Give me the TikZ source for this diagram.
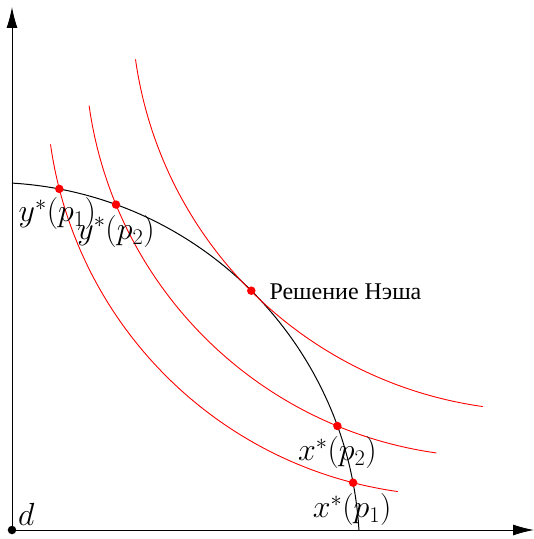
\documentclass[tikz,border=0pt]{standalone}
\usepackage{fix-cm}
\usepackage{fontspec}
\newfontfamily\cyrfont{Liberation Serif}
\usetikzlibrary{arrows.meta}
\begin{document}
\begin{tikzpicture}[x=1pt,y=1pt,
  axis/.style={line width=0.9pt, -{Latex[length=21pt,width=11pt]}},
  frontier/.style={line width=1pt, black},
  indiff/.style={line width=0.9pt, red},
  reddot/.style={circle, fill=red, inner sep=0pt, minimum size=8.5pt},
  blackdot/.style={circle, fill=black, inner sep=0pt, minimum size=8.5pt},
  mathlab/.style={inner sep=0pt, font=\fontsize{32}{38}\selectfont},
  nashlab/.style={inner sep=0pt, anchor=base west, font=\fontsize{24}{28}\selectfont\cyrfont}]
\useasboundingbox (-12,-9) rectangle (522,530);
% axes
\coordinate (O) at (0,0);
\coordinate (ytip) at (0,523);
\coordinate (xtip) at (522,0);
\draw[axis] (O) -- (ytip);
\draw[axis] (O) -- (xtip);
% production frontier
\draw[frontier] (0,346.9) arc[start angle=86.59, end angle=3.41, radius=369.6pt];
% indifference curves
\draw[indiff] (38.5,385.7) arc[start angle=188, end angle=262, radius=408pt];
\draw[indiff] (77.1,424.3) arc[start angle=188, end angle=262, radius=408pt];
\draw[indiff] (123.5,470.7) arc[start angle=188, end angle=262, radius=408pt];
% points
\node[blackdot] (Od) at (O) {};
\node[reddot] (y1) at (47.3,341.1) {};
\node[reddot] (y2) at (104,325.4) {};
\node[reddot] (nash) at (239.3,239.3) {};
\node[reddot] (x2) at (325.4,104) {};
\node[reddot] (x1) at (341.1,47.3) {};
% labels
\node[mathlab, anchor=base west] (dl) at ([xshift=6pt,yshift=5pt]Od.center) {$d$};
\node[mathlab] (ly1) at ([xshift=-2pt,yshift=-25pt]y1.center) {$y^*(p_1)$};
\node[mathlab] (ly2) at ([yshift=-27pt]y2.center) {$y^*(p_2)$};
\node[mathlab] (lx2) at ([yshift=-27pt]x2.center) {$x^*(p_2)$};
\node[mathlab] (lx1) at ([xshift=-1pt,yshift=-27pt]x1.center) {$x^*(p_1)$};
\node[nashlab] (ln) at ([xshift=18pt,yshift=-9pt]nash.center) {Решение Нэша};
\end{tikzpicture}
\end{document}
